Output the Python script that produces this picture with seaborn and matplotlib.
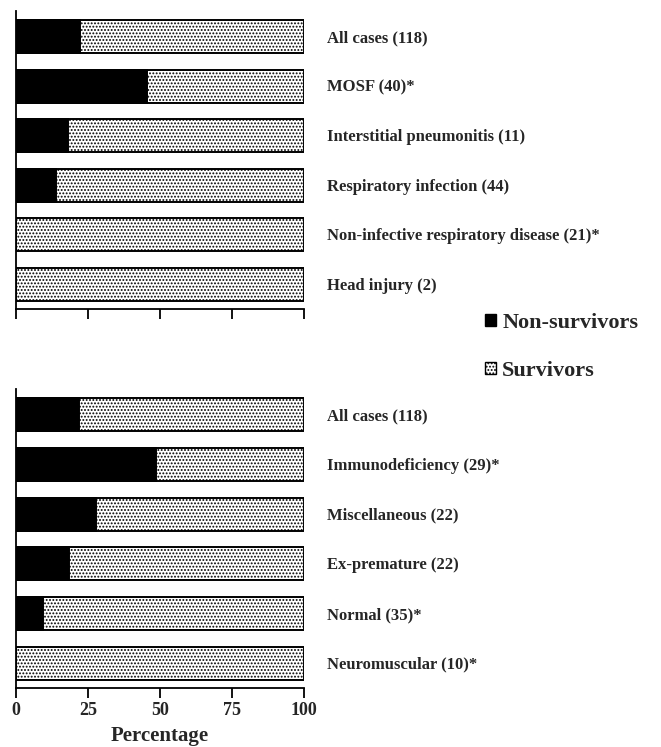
import matplotlib
matplotlib.use("Agg")
import matplotlib.pyplot as plt
from matplotlib.patches import Patch
import seaborn as sns
import pandas as pd

# Diagnostic groups (upper panel) and pre-existing conditions (lower panel)
diag_labels = ["All cases (118)", "MOSF (40)*", "Interstitial pneumonitis (11)",
               "Respiratory infection (44)", "Non-infective respiratory disease (21)*",
               "Head injury (2)"]
diag_nonsurv = [22.2, 45.4, 18.2, 13.9, 0.0, 0.0]

cond_labels = ["All cases (118)", "Immunodeficiency (29)*", "Miscellaneous (22)",
               "Ex-premature (22)", "Normal (35)*", "Neuromuscular (10)*"]
cond_nonsurv = [22.0, 48.5, 27.7, 18.4, 9.5, 0.0]

xticks = [0, 25, 50, 75, 100]

sns.set_theme(style="ticks")
plt.rcParams["font.family"] = ["Liberation Serif", "DejaVu Serif"]
plt.rcParams["font.weight"] = "bold"
plt.rcParams["hatch.linewidth"] = 0.9

W, H = 661, 747
fig = plt.figure(figsize=(W / 100, H / 100), dpi=100)

ax_top = fig.add_axes([16 / W, (H - 309) / H, 288 / W, 298 / H])
ax_bot = fig.add_axes([16 / W, (H - 688) / H, 288 / W, 299 / H])

BAR_W = 0.665


def draw_panel(ax, labels, nonsurv, show_ticklabels):
    df = pd.DataFrame({"group": labels,
                       "total": [100.0] * len(labels),
                       "nonsurv": nonsurv})
    # full-width survivors bar, non-survivor share laid over it from zero
    sns.barplot(data=df, x="total", y="group", orient="h", ax=ax,
                color="white", edgecolor="black", linewidth=1.4,
                hatch=".....", width=BAR_W)
    sns.barplot(data=df, x="nonsurv", y="group", orient="h", ax=ax,
                color="black", edgecolor="black", linewidth=1.4,
                width=BAR_W)
    ax.set_xlim(0, 100)
    ax.set_ylim(len(labels) - 0.5, -0.52)
    ax.set_yticks([])
    ax.set_xticks(xticks)
    ax.set_xlabel("")
    ax.set_ylabel("")
    for s in ("top", "right"):
        ax.spines[s].set_visible(False)
    for s in ("left", "bottom"):
        ax.spines[s].set_linewidth(1.3)
        ax.spines[s].set_color("black")
    ax.tick_params(axis="x", direction="out", length=7, width=1.3,
                   color="black", labelsize=13, pad=3)
    if not show_ticklabels:
        ax.set_xticklabels([])
    for i, lab in enumerate(labels):
        ax.text(108.0, i + 0.03, lab, ha="left", va="center", fontsize=12,
                fontweight="bold", clip_on=False)


draw_panel(ax_top, diag_labels, diag_nonsurv, False)
draw_panel(ax_bot, cond_labels, cond_nonsurv, True)
ax_bot.set_xlabel("Percentage", fontsize=15, fontweight="bold", labelpad=5)

handles = [Patch(facecolor="black", edgecolor="black"),
           Patch(facecolor="white", edgecolor="black", hatch=".....")]
fig.legend(handles, ["Non-survivors", "Survivors"], loc="center left",
           bbox_to_anchor=(476 / W, (H - 347) / H), frameon=False,
           handlelength=0.48, handleheight=0.48, handletextpad=0.3,
           labelspacing=1.25, borderaxespad=0.0,
           prop={"family": "Liberation Serif", "weight": "bold", "size": 16})

fig.savefig("out.png", dpi=100)
